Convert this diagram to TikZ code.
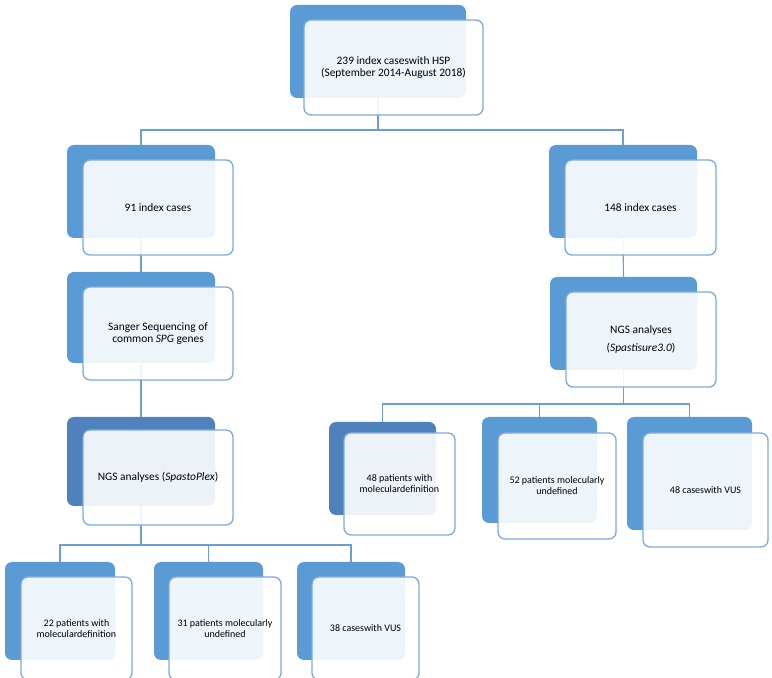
\documentclass[tikz,border=0pt]{standalone}
\usepackage{fontspec}
\setmainfont{Carlito}
\definecolor{boxblue}{HTML}{5B9BD5}
\definecolor{boxdark}{HTML}{4F81BD}
\definecolor{edgeblue}{HTML}{7DAADC}
\definecolor{linkblue}{HTML}{6A9FD4}
\tikzset{
  back/.style={rectangle, rounded corners=7pt, fill=boxblue, inner sep=0pt},
  backdark/.style={back, fill=boxdark},
  front/.style={rectangle, rounded corners=7pt, draw=edgeblue, line width=1.3pt,
    fill=white, fill opacity=0.9, text opacity=1, inner sep=0pt, align=center,
    font=\fontsize{11.4}{12.3}\selectfont},
  leaf/.style={front, font=\fontsize{10}{11}\selectfont},
  link/.style={draw=linkblue, line width=1.1pt}
}
\begin{document}
\begin{tikzpicture}[x=1pt, y=1pt]
      \useasboundingbox (0,0) rectangle (772,678);
      % bus lines
      \coordinate (bus0) at (0,548);
      \coordinate (busR) at (0,274);
      \coordinate (busL) at (0,133);
      % back boxes
      \path
        (378,626.5) node[back, minimum width=176, minimum height=93] (top){}
        (141,486.5) node[back, minimum width=148, minimum height=93] (idx91){}
        (623,486.5) node[back, minimum width=148, minimum height=93] (idx148){}
        (141,360.5) node[back, minimum width=148, minimum height=91] (sanger){}
        (623.5,354.5) node[back, minimum width=147, minimum height=93] (ngsR){}
        (141,216.5) node[backdark, minimum width=148, minimum height=89] (ngsL){}
        (382.5,209.5) node[backdark, minimum width=107, minimum height=93] (molR){}
        (539.5,208) node[back, minimum width=115, minimum height=106] (undefR){}
        (689.5,204.5) node[back, minimum width=125, minimum height=113] (vusR){}
        (60,67) node[back, minimum width=110, minimum height=98] (molL){}
        (208.5,67) node[back, minimum width=109, minimum height=98] (undefL){}
        (351,67) node[back, minimum width=108, minimum height=98] (vusL){};
      % connectors
      \begin{scope}[link]
        \draw (top.south) -- (top.south |- bus0) -| (idx91.north);
        \draw (top.south |- bus0) -| (idx148.north);
        \draw (idx91.south) -- (sanger.north);
        \draw (sanger.south) -- (ngsL.north);
        \draw (idx148.south) -- (ngsR.north);
        \draw (ngsR.south) -- (ngsR.south |- busR) -| (molR.north);
        \draw (ngsR.south |- busR) -| (undefR.north);
        \draw (ngsR.south |- busR) -| (vusR.north);
        \draw (ngsL.south) -- (ngsL.south |- busL) -| (molL.north);
        \draw (ngsL.south |- busL) -| (undefL.north);
        \draw (ngsL.south |- busL) -| (vusL.north);
      \end{scope}
      % front boxes
      \path
        (393.5,610.5) node[front, minimum width=179, minimum height=95] (top-f)
          {239 index caseswith HSP\\(September 2014-August 2018)}
        (158,470.5) node[front, minimum width=150, minimum height=95] (idx91-f)
          {91 index cases}
        (640.5,470.5) node[front, minimum width=151, minimum height=95] (idx148-f)
          {148 index cases}
        (158,344.5) node[front, minimum width=150, minimum height=93] (sanger-f)
          {Sanger Sequencing of\\common \textit{SPG} genes}
        (641,338.5) node[front, minimum width=150, minimum height=95] (ngsR-f)
          {NGS analyses\\[5.7pt](\textit{Spastisure3.0})}
        (158,200.5) node[front, minimum width=150, minimum height=95] (ngsL-f)
          {NGS analyses (\textit{SpastoPlex})}
        (399.5,194) node[leaf, minimum width=111, minimum height=102] (molR-f)
          {48 patients with\\moleculardefinition}
        (557,192) node[leaf, minimum width=118, minimum height=106] (undefR-f)
          {52 patients molecularly\\undefined}
        (705.5,188) node[leaf, minimum width=125, minimum height=114] (vusR-f)
          {48 caseswith VUS}
        (76.5,49.5) node[leaf, minimum width=111, minimum height=103] (molL-f)
          {22 patients with\\moleculardefinition}
        (225,49.5) node[leaf, minimum width=112, minimum height=103] (undefL-f)
          {31 patients molecularly\\undefined}
        (365.5,49.5) node[leaf, minimum width=107, minimum height=103] (vusL-f)
          {38 caseswith VUS};
    \end{tikzpicture}
\end{document}
